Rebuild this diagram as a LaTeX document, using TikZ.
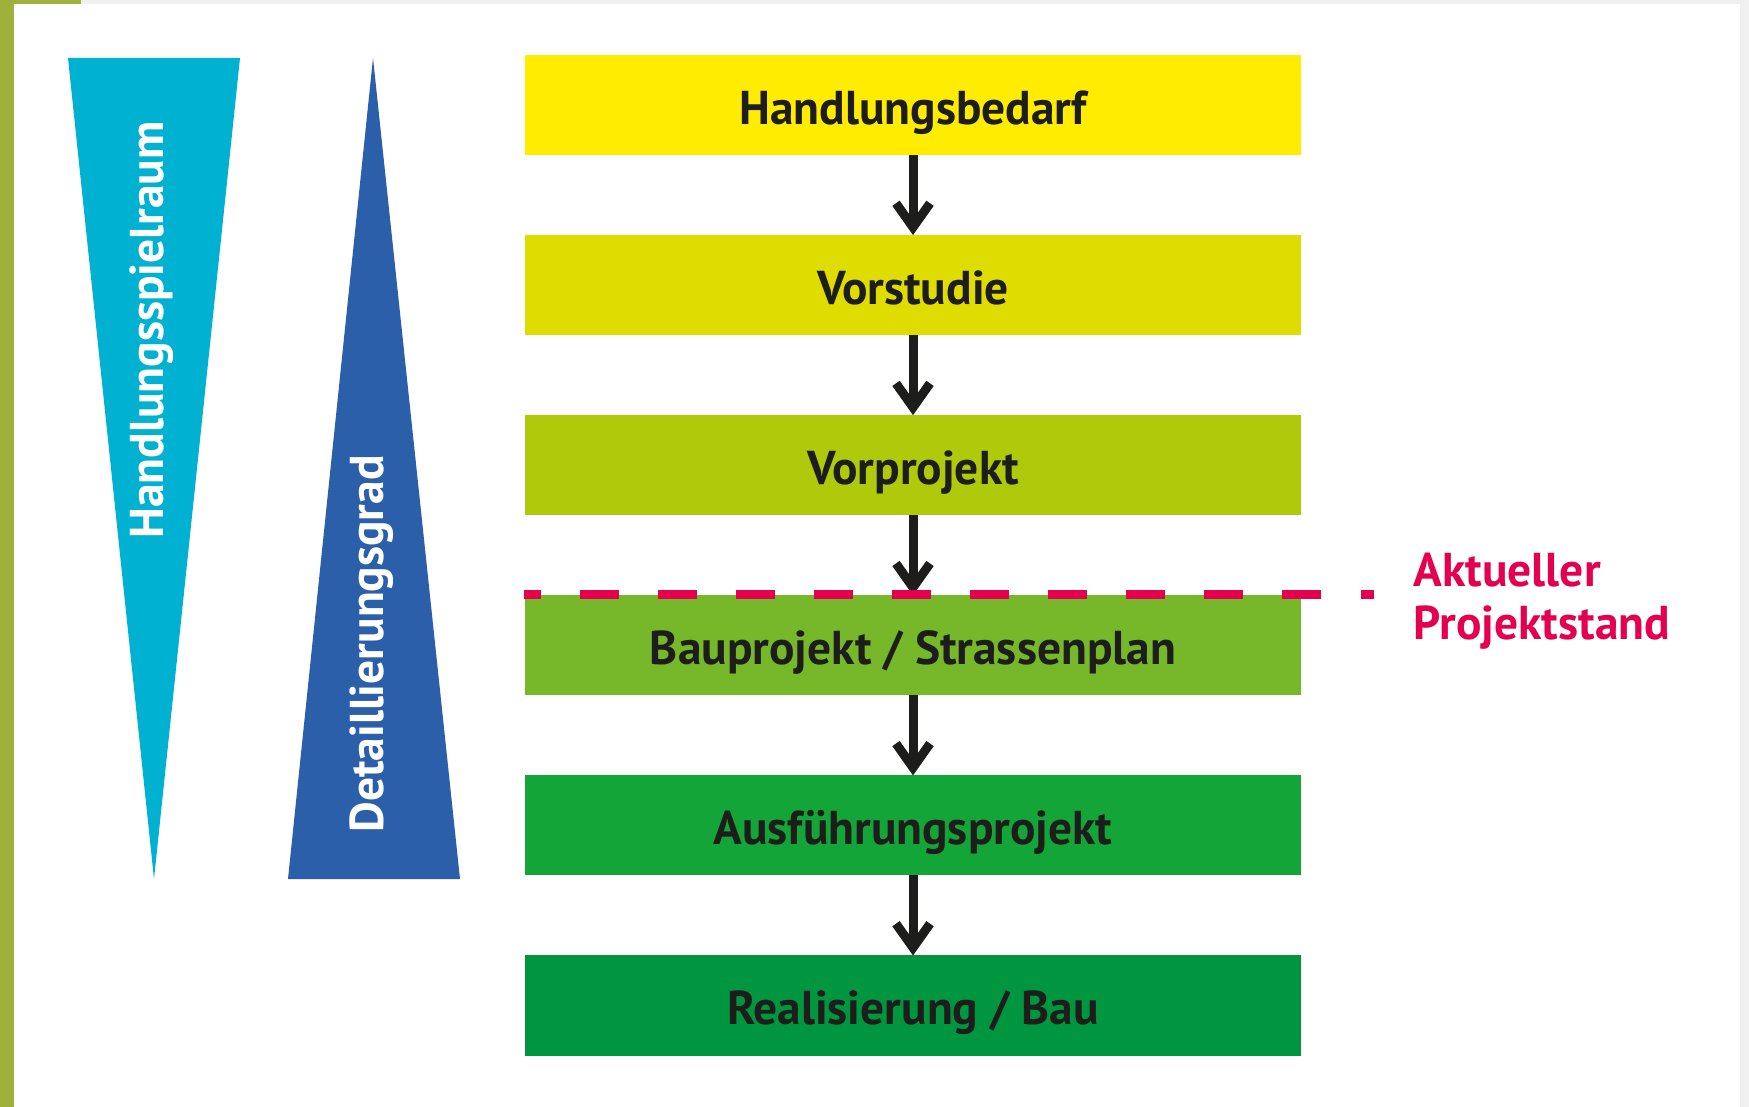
\documentclass[tikz,border=0pt]{standalone}
\usepackage{fontspec}
\setmainfont{PT Sans}
\usepackage{xcolor}
\usetikzlibrary{arrows.meta,positioning}

\definecolor{rahmen}{HTML}{9FB03B}
\definecolor{grau}{HTML}{F0F0F0}
\definecolor{stufeA}{HTML}{FFEC00}
\definecolor{stufeB}{HTML}{DEDC00}
\definecolor{stufeC}{HTML}{AFCA0B}
\definecolor{stufeD}{HTML}{76B82A}
\definecolor{stufeE}{HTML}{13A538}
\definecolor{stufeF}{HTML}{009640}
\definecolor{spielraum}{HTML}{00B1D2}
\definecolor{detail}{HTML}{2C5FAA}
\definecolor{stand}{HTML}{E4004E}
\definecolor{schrift}{HTML}{1D1D1B}

\tikzset{
  stufe/.style={minimum width=7.76cm, minimum height=1cm, inner sep=0pt, outer sep=0pt,
    text height=11pt, text depth=0pt,
    text=schrift, font=\fontsize{13.5}{15}\selectfont\bfseries},
  pfeil/.style={draw=schrift, line width=0.09cm,
    -{Straight Barb[length=2.4mm, width=3.4mm]}},
  keillabel/.style={rotate=90, text=white, font=\fontsize{13.5}{15}\selectfont\bfseries}
}

\begin{document}
\begin{tikzpicture}[x=0.01cm, y=-0.01cm, node distance=0.8cm]

\useasboundingbox (0,0) rectangle (1749,1107);
\fill[grau] (0,0) rectangle (1749,1107);
\fill[white] (14,4) rectangle (1740,1107);
\fill[rahmen] (0,0) rectangle (14,1107);
\fill[rahmen] (0,0) rectangle (81,4);

\fill[spielraum] (68,58) -- (240,58) -- (154,879) -- cycle;
\fill[detail] (373,58) -- (460,879) -- (288,879) -- cycle;
\node[keillabel] (spiel) at (152,330) {Handlungsspielraum};
\node[keillabel] (grad) at (372,644) {Detaillierungsgrad};

\node[stufe, fill=stufeA] (bedarf) at (913,105) {Handlungsbedarf};
\node[stufe, fill=stufeB, below=of bedarf] (vorstudie) {Vorstudie};
\node[stufe, fill=stufeC, below=of vorstudie] (vorprojekt) {Vorprojekt};
\node[stufe, fill=stufeD, below=of vorprojekt] (bauprojekt) {Bauprojekt / Strassenplan};
\node[stufe, fill=stufeE, below=of bauprojekt] (ausfuehrung) {Ausführungsprojekt};
\node[stufe, fill=stufeF, below=of ausfuehrung] (bau) {Realisierung / Bau};

\draw[pfeil] (bedarf) -- (vorstudie);
\draw[pfeil] (vorstudie) -- (vorprojekt);
\draw[pfeil] (vorprojekt) -- (bauprojekt);
\draw[pfeil] (bauprojekt) -- (ausfuehrung);
\draw[pfeil] (ausfuehrung) -- (bau);

\coordinate (linieA) at (524,595);
\coordinate (linieB) at (1374,595);
\draw[stand, line width=0.09cm, dash pattern=on 0.39cm off 0.39cm, dash phase=0.22cm] (linieA) -- (linieB);
\node[anchor=west, align=left, inner sep=0pt, text=stand,
  font=\fontsize{13.5}{15}\selectfont\bfseries] (aktuell) at (1413,601) {Aktueller\\Projektstand};

\end{tikzpicture}
\end{document}
